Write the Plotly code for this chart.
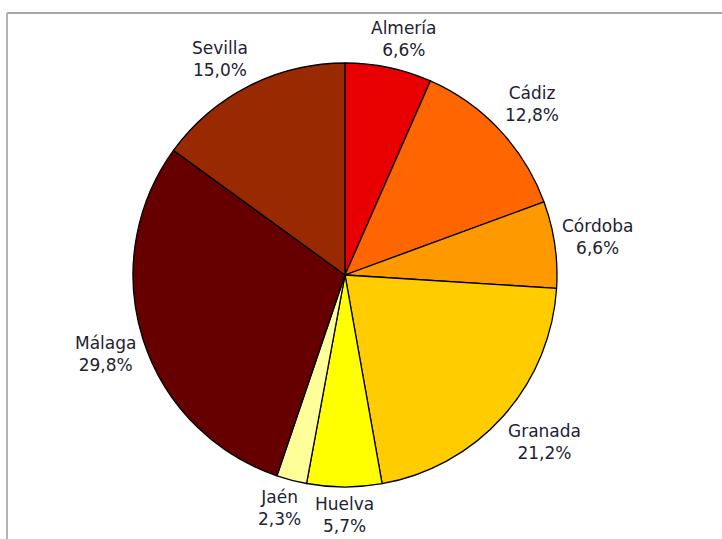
import math
import plotly.graph_objects as go

provinces = ["Almería", "Cádiz", "Córdoba", "Granada", "Huelva", "Jaén", "Málaga", "Sevilla"]
shares = [6.6, 12.8, 6.6, 21.2, 5.7, 2.3, 29.8, 15.0]
colors = ["#E80000", "#FF6600", "#FF9900", "#FFCC00", "#FFFF00", "#FFFF99", "#660000", "#992900"]

W, H = 722, 539
cx, cy, r = 345, 275, 212
FONT = 17

# approximate DejaVu Sans advance widths (em) for label-size estimation
_EM = {"A": .684, "C": .698, "G": .775, "H": .752, "J": .295, "M": .863, "S": .635,
       "a": .613, "á": .613, "b": .635, "d": .635, "e": .615, "é": .615, "g": .635,
       "i": .278, "í": .278, "l": .278, "m": .974, "n": .634, "o": .612, "ó": .612,
       "r": .411, "u": .634, "v": .592, "z": .525, ",": .318, "%": .950}


def text_w(s):
    return sum(_EM.get(ch, .636) for ch in s) * FONT


fig = go.Figure(go.Pie(
    labels=provinces,
    values=shares,
    sort=False,
    direction="clockwise",
    rotation=0,
    marker=dict(colors=colors, line=dict(color="#000000", width=1.3)),
    textinfo="none",
    showlegend=False,
    hoverinfo="label+percent",
    domain=dict(x=[(cx - r) / W, (cx + r) / W], y=[(H - cy - r) / H, (H - cy + r) / H]),
))


def clamp(t):
    return max(-1.0, min(1.0, t))


# outside-end data labels, positioned from each slice's mid angle
total = sum(shares)
annotations = []
cum = 0.0
gap = 7
for name, v in zip(provinces, shares):
    mid = (cum + v / 2) / total * 2 * math.pi
    cum += v
    pct = f"{v:.1f}".replace(".", ",") + "%"
    hw = max(text_w(name), text_w(pct)) / 2
    hh = FONT * 1.25
    s, c = math.sin(mid), math.cos(mid)
    ex = cx + (r + gap) * s
    ey = cy - (r + gap) * c
    x = ex + hw * clamp(2 * s)
    y = ey - hh * clamp(2 * c)
    annotations.append(dict(
        x=x / W, y=1 - y / H, xref="paper", yref="paper",
        text=f"{name}<br>{pct}", showarrow=False,
        xanchor="center", yanchor="middle", align="center",
        font=dict(family="DejaVu Sans", size=FONT, color="#222233"),
    ))

fig.update_layout(
    width=W, height=H,
    margin=dict(l=0, r=0, t=0, b=0),
    paper_bgcolor="#ffffff",
    annotations=annotations,
    shapes=[
        dict(type="line", xref="paper", yref="paper", x0=7 / W, x1=1, y0=1 - 13 / H, y1=1 - 13 / H,
             line=dict(color="#a8a8a8", width=2)),
        dict(type="line", xref="paper", yref="paper", x0=7 / W, x1=7 / W, y0=0, y1=1 - 13 / H,
             line=dict(color="#b4b4b4", width=2)),
    ],
)

fig.write_html("out.html", config={"responsive": False, "displayModeBar": False},
               post_script="document.body.style.margin='0';document.body.style.overflow='hidden';")
